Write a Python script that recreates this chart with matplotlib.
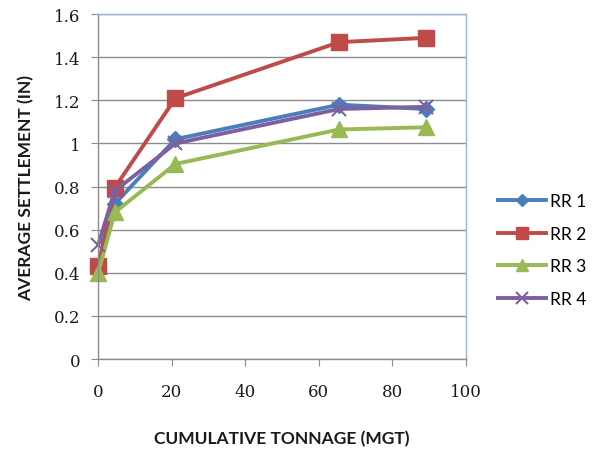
import matplotlib
matplotlib.use("Agg")
import matplotlib.pyplot as plt

# Cumulative tonnage (MGT) and average settlement (in) per section
tonnage = [0, 4.5, 21, 65.5, 89]
rr1 = [0.42, 0.72, 1.02, 1.18, 1.16]
rr2 = [0.43, 0.795, 1.21, 1.47, 1.49]
rr3 = [0.40, 0.68, 0.905, 1.065, 1.075]
rr4 = [0.53, 0.78, 1.00, 1.16, 1.17]

series = [
    ("RR 1", rr1, "#4A7EBB", "D", 8),
    ("RR 2", rr2, "#BE4B48", "s", 11),
    ("RR 3", rr3, "#98B954", "^", 11),
    ("RR 4", rr4, "#7D60A0", "x", 10),
]

xticks = [0, 20, 40, 60, 80, 100]
yticks = [0, 0.2, 0.4, 0.6, 0.8, 1.0, 1.2, 1.4, 1.6]
ytick_labels = ["0", "0.2", "0.4", "0.6", "0.8", "1", "1.2", "1.4", "1.6"]

fig = plt.figure(figsize=(6.10, 4.52), dpi=100)
ax = fig.add_axes([0.161, 0.2035, 0.603, 0.763])

for name, vals, color, marker, ms in series:
    kw = dict(markeredgewidth=1.5) if marker == "x" else dict(markeredgecolor=color)
    ax.plot(tonnage, vals, color=color, linewidth=2.8, marker=marker,
            markersize=ms, markerfacecolor=color, label=name, clip_on=False, **kw)

ax.set_xlim(0, 100)
ax.set_ylim(0, 1.6)
ax.set_xticks(xticks)
ax.set_yticks(yticks)
ax.set_yticklabels(ytick_labels)
ax.yaxis.grid(True, color="#8C8C8C", linewidth=1.0)
ax.set_axisbelow(True)

for lbl in ax.get_xticklabels() + ax.get_yticklabels():
    lbl.set_fontfamily("DejaVu Serif")
    lbl.set_fontsize(12)
ax.tick_params(axis="both", direction="out", length=5, color="#8C8C8C",
               labelcolor="#1a1a1a")
ax.tick_params(axis="x", pad=12)
ax.tick_params(axis="y", pad=8)

for side in ("left", "bottom"):
    ax.spines[side].set_color("#8C8C8C")
for side in ("top", "right"):
    ax.spines[side].set_color("#9DB5D3")
for sp in ax.spines.values():
    sp.set_linewidth(1.0)

ax.set_xlabel("CUMULATIVE TONNAGE (MGT)", fontfamily="Lato", fontweight="bold",
              fontsize=12.5, color="#1a1a1a", labelpad=22)
ax.set_ylabel("AVERAGE SETTLEMENT (IN)", fontfamily="Lato", fontweight="bold",
              fontsize=12.5, color="#1a1a1a", labelpad=14)

leg = fig.legend(loc="center left", bbox_to_anchor=(0.79, 0.445), frameon=False,
                 prop=dict(family="Lato", size=12.5), handlelength=2.8,
                 labelspacing=0.95, handletextpad=0.2, markerscale=0.8)

fig.savefig("out.png", dpi=100)
